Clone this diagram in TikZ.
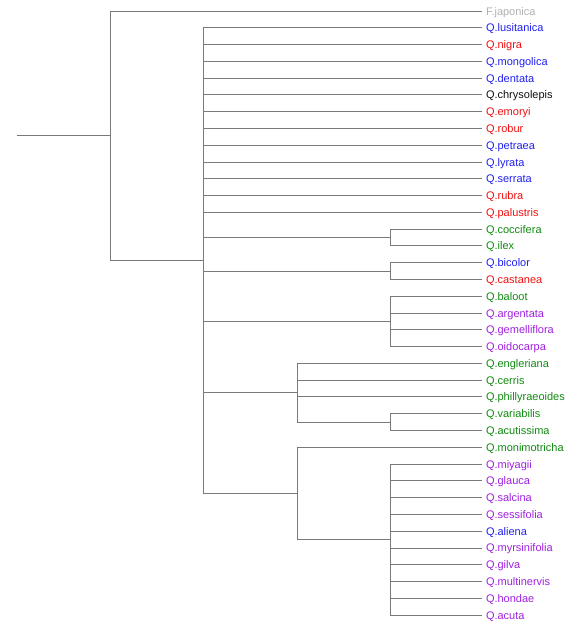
\documentclass[tikz,border=0pt]{standalone}
\usepackage{fontspec}
\setmainfont{Liberation Sans}
\definecolor{cgray}{HTML}{B0B0B0}
\definecolor{cblue}{HTML}{2020F0}
\definecolor{cred}{HTML}{F01010}
\definecolor{cgreen}{HTML}{108A10}
\definecolor{cpurple}{HTML}{A020E0}
\definecolor{cblack}{HTML}{101010}
\definecolor{edge}{HTML}{7A7A7A}
\begin{document}
\begin{tikzpicture}[x=1pt,y=-1pt,
  leaf/.style={anchor=west,inner xsep=3.8pt,inner ysep=0pt,text height=8pt,text depth=0pt,
    font=\fontsize{11}{13}\selectfont},
  branch/.style={draw=edge,line width=0.9pt}]
\useasboundingbox (0,0) rectangle (580,624);
\foreach \n/\t/\c [count=\i from 0] in {
  japonica/F.japonica/cgray,
  lusitanica/Q.lusitanica/cblue,
  nigra/Q.nigra/cred,
  mongolica/Q.mongolica/cblue,
  dentata/Q.dentata/cblue,
  chrysolepis/Q.chrysolepis/cblack,
  emoryi/Q.emoryi/cred,
  robur/Q.robur/cred,
  petraea/Q.petraea/cblue,
  lyrata/Q.lyrata/cblue,
  serrata/Q.serrata/cblue,
  rubra/Q.rubra/cred,
  palustris/Q.palustris/cred,
  coccifera/Q.coccifera/cgreen,
  ilex/Q.ilex/cgreen,
  bicolor/Q.bicolor/cblue,
  castanea/Q.castanea/cred,
  baloot/Q.baloot/cgreen,
  argentata/Q.argentata/cpurple,
  gemelliflora/Q.gemelliflora/cpurple,
  oidocarpa/Q.oidocarpa/cpurple,
  engleriana/Q.engleriana/cgreen,
  cerris/Q.cerris/cgreen,
  phillyraeoides/Q.phillyraeoides/cgreen,
  variabilis/Q.variabilis/cgreen,
  acutissima/Q.acutissima/cgreen,
  monimotricha/Q.monimotricha/cgreen,
  miyagii/Q.miyagii/cpurple,
  glauca/Q.glauca/cpurple,
  salcina/Q.salcina/cpurple,
  sessifolia/Q.sessifolia/cpurple,
  aliena/Q.aliena/cblue,
  myrsinifolia/Q.myrsinifolia/cpurple,
  gilva/Q.gilva/cpurple,
  multinervis/Q.multinervis/cpurple,
  hondae/Q.hondae/cpurple,
  acuta/Q.acuta/cpurple}
  \node[leaf,text=\c] (l\i) at (482,{11+16.78*\i}) {\t};
% internal nodes
\coordinate (root) at (17,{11+16.78*7.4375});
\coordinate (n1) at (110,{11+16.78*7.4375});
\coordinate (n2) at (203,{11+16.78*14.875});
\coordinate (ncoc) at (390,{11+16.78*13.5});
\coordinate (nbic) at (390,{11+16.78*15.5});
\coordinate (nbal) at (390,{11+16.78*18.5});
\coordinate (neng) at (297,{11+16.78*22.75});
\coordinate (nvar) at (390,{11+16.78*24.5});
\coordinate (nmon) at (297,{11+16.78*28.75});
\coordinate (nmiy) at (390,{11+16.78*31.5});
% edges
\draw[branch] (root) -- (n1);
\draw[branch] (n1) |- (l0.west);
\draw[branch] (n1) |- (n2);
\foreach \i in {1,...,12} \draw[branch] (n2) |- (l\i.west);
\draw[branch] (n2) |- (ncoc);
\draw[branch] (n2) |- (nbic);
\draw[branch] (n2) |- (nbal);
\draw[branch] (n2) |- (neng);
\draw[branch] (n2) |- (nmon);
\foreach \i in {13,14} \draw[branch] (ncoc) |- (l\i.west);
\foreach \i in {15,16} \draw[branch] (nbic) |- (l\i.west);
\foreach \i in {17,...,20} \draw[branch] (nbal) |- (l\i.west);
\foreach \i in {21,22,23} \draw[branch] (neng) |- (l\i.west);
\draw[branch] (neng) |- (nvar);
\foreach \i in {24,25} \draw[branch] (nvar) |- (l\i.west);
\draw[branch] (nmon) |- (l26.west);
\draw[branch] (nmon) |- (nmiy);
\foreach \i in {27,...,36} \draw[branch] (nmiy) |- (l\i.west);
\end{tikzpicture}
\end{document}
